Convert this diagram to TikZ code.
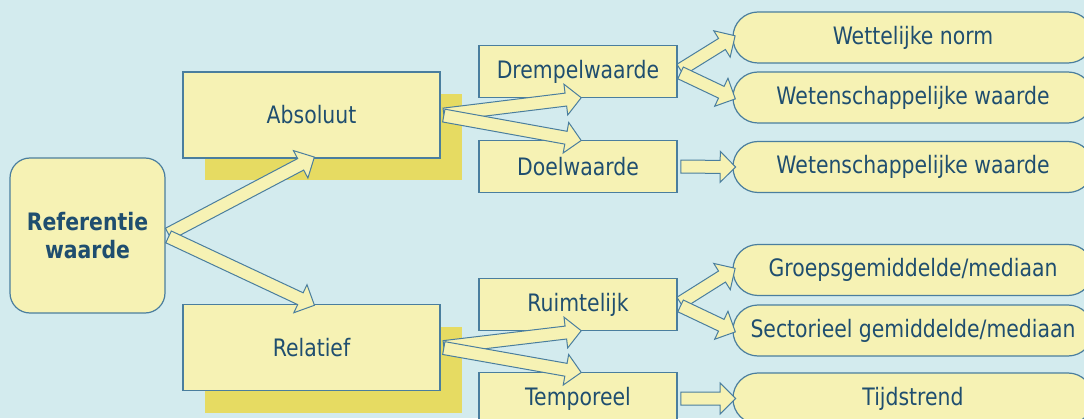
\documentclass[tikz,border=0pt]{standalone}
\usepackage{fontspec}
\setmainfont{DejaVu Sans}[FakeStretch=0.85]
\usetikzlibrary{calc,shapes.arrows,shadows}
\definecolor{RefBg}{HTML}{D3EBEE}
\definecolor{RefBox}{HTML}{F6F2B4}
\definecolor{RefShadow}{HTML}{E6DB62}
\definecolor{RefLine}{HTML}{4A7E9E}
\definecolor{RefText}{HTML}{1F4E6F}

% wide hollow arrow from one anchor to another
\newcommand{\blockarrow}[2]{%
  \path let \p1=($(#2)-(#1)$), \n1={atan2(\y1,\x1)}, \n2={veclen(\x1,\y1)} in
    node[barrow,minimum height=\n2,rotate=\n1] at ($(#1)!0.5!(#2)$) {};}

\begin{document}
\begin{tikzpicture}[x=1pt,y=1pt,font=\fontsize{24}{28}\selectfont,text=RefText,
  box/.style={draw=RefLine,line width=1.2pt,fill=RefBox,minimum width=198pt,minimum height=52pt,inner sep=0pt},
  main/.style={box,minimum width=257pt,minimum height=86pt,drop shadow={shadow xshift=22pt,shadow yshift=-22pt,fill=RefShadow,opacity=1}},
  leaf/.style={box,rounded corners=25pt,minimum width=360pt,minimum height=51pt},
  barrow/.style={single arrow,draw=RefLine,fill=RefBox,line width=1pt,inner xsep=0pt,inner ysep=6pt,single arrow head extend=9pt}]
  \fill[RefBg] (0,0) rectangle (1084,418);
  \clip (0,0) rectangle (1084,418);

  \node[box,rounded corners=20pt,minimum width=155pt,minimum height=155pt,align=center,font=\fontsize{24}{28}\selectfont\bfseries] (ref) at (87.5,182.5) {Referentie\\waarde};

  \node[main] (abs) at (311.5,303) {Absoluut};
  \node[main] (rel) at (311.5,70.5) {Relatief};

  \node[box] (drempel) at (578,346.5) {Drempelwaarde};
  \node[box] (doel) at (578,251.5) {Doelwaarde};
  \node[box] (ruimte) at (578,113.5) {Ruimtelijk};
  \node[box] (tempo) at (578,19.5) {Temporeel};

  \node[leaf] (wettelijk) at (913,380.5) {Wettelijke norm};
  \node[leaf] (wetensch1) at (913,320.5) {Wetenschappelijke waarde};
  \node[leaf] (wetensch2) at (913,251) {Wetenschappelijke waarde};
  \node[leaf] (groep) at (913,148) {Groepsgemiddelde/mediaan};
  \node[leaf] (sector) at (913,87.5) {Sectorieel gemiddelde/mediaan};
  \node[leaf] (trend) at (913,19.5) {Tijdstrend};

  % arrows
  \blockarrow{ref.east}{abs.south}
  \blockarrow{ref.east}{rel.north}
  \blockarrow{abs.east}{drempel.south}
  \blockarrow{abs.east}{doel.north}
  \blockarrow{drempel.east}{wettelijk.west}
  \blockarrow{drempel.east}{wetensch1.west}
  \blockarrow{doel.east}{wetensch2.west}
  \blockarrow{rel.east}{ruimte.south}
  \blockarrow{rel.east}{tempo.north}
  \blockarrow{ruimte.east}{groep.west}
  \blockarrow{ruimte.east}{sector.west}
  \blockarrow{tempo.east}{trend.west}
\end{tikzpicture}
\end{document}
